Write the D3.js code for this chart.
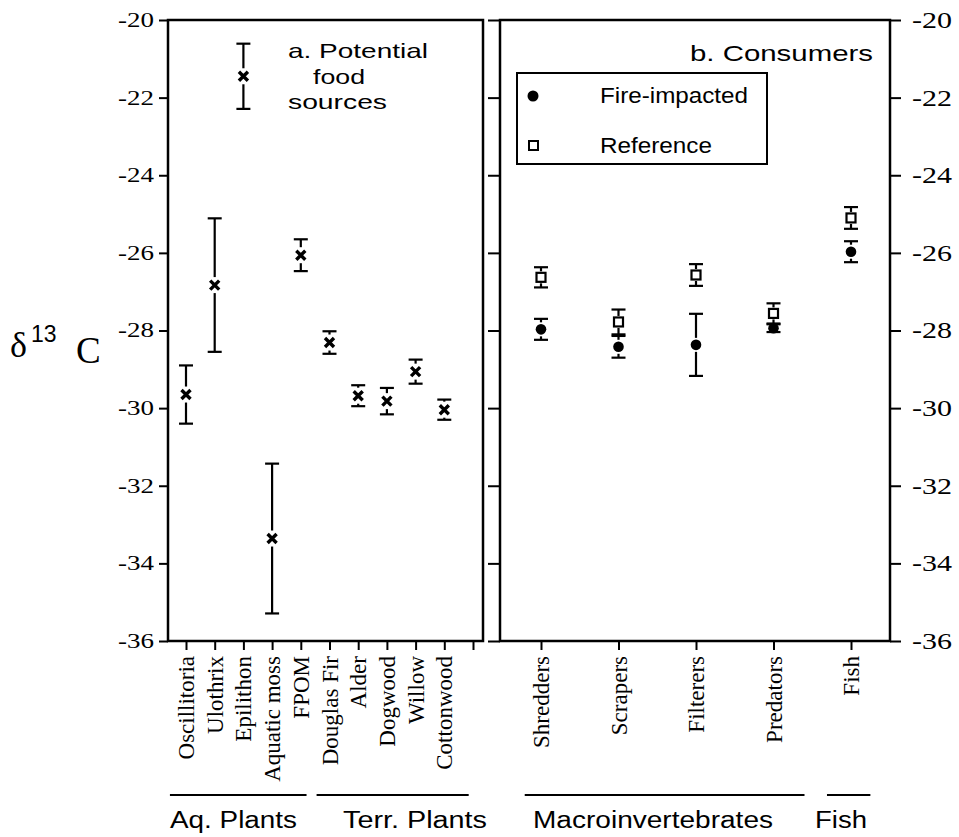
<!DOCTYPE html>
<html>
<head>
<meta charset="utf-8">
<script src="https://cdn.jsdelivr.net/npm/d3@7"></script>
<style>
  body { margin: 0; background: #fff; }
  .tick line { stroke: #000; stroke-width: 2; }
  .domain { display: none; }
</style>
</head>
<body>
<script>
// data
var foodLabels = ["Oscillitoria", "Ulothrix", "Epilithon", "Aquatic moss", "FPOM",
                  "Douglas Fir", "Alder", "Dogwood", "Willow", "Cottonwood"];
var foodMean = [-29.65, -26.83, -21.45, -33.36, -26.06, -28.31, -29.68, -29.82, -29.06, -30.04];
var foodErr  = [0.75, 1.72, 0.84, 1.93, 0.41, 0.29, 0.27, 0.34, 0.31, 0.26];

var consumerLabels = ["Shredders", "Scrapers", "Filterers", "Predators", "Fish"];
var fireMean = [-27.97, -28.42, -28.37, -27.94, -25.97];
var fireErr  = [0.27, 0.28, 0.80, 0.10, 0.27];
var refMean  = [-26.63, -27.78, -26.57, -27.56, -25.10];
var refErr   = [0.26, 0.32, 0.28, 0.26, 0.28];

var yTicks = [-36, -34, -32, -30, -28, -26, -24, -22, -20];

// svg
var svgWidth = 959, svgHeight = 837;
var svg = d3.select("body").append("svg")
  .attr("width", svgWidth)
  .attr("height", svgHeight);

var top0 = 20, bottom0 = 641;
var panelA = {left: 168, right: 483};
var panelB = {left: 500, right: 890};

var y = d3.scaleLinear().domain([-36, -20]).range([bottom0, top0]);
var xa = d3.scaleLinear().domain([0, 10]).range([186, 473]);
var xb = d3.scaleLinear().domain([0, 4]).range([541, 851]);

var sans = "Liberation Sans, Arial, sans-serif";
var serif = "Liberation Serif, Times New Roman, serif";

// axes
var leftAxis = svg.append("g")
  .attr("transform", "translate(" + panelA.left + ",0)")
  .call(d3.axisLeft(y).tickValues(yTicks).tickSize(9).tickPadding(5).tickFormat(function(d) { return "-" + Math.abs(d); }));
leftAxis.selectAll("text")
  .style("font-family", serif).style("font-size", "20px").attr("fill", "#000")
  .attr("textLength", 36).attr("lengthAdjust", "spacingAndGlyphs");

svg.append("g")
  .attr("transform", "translate(" + panelB.left + ",0)")
  .call(d3.axisLeft(y).tickValues(yTicks).tickSize(12).tickFormat(""));

var rightAxis = svg.append("g")
  .attr("transform", "translate(" + panelB.right + ",0)")
  .call(d3.axisRight(y).tickValues(yTicks).tickSize(11).tickPadding(11).tickFormat(function(d) { return "-" + Math.abs(d); }));
rightAxis.selectAll("text")
  .style("font-family", serif).style("font-size", "23px").attr("fill", "#000")
  .attr("textLength", 40).attr("lengthAdjust", "spacingAndGlyphs");

var bottomA = svg.append("g")
  .attr("transform", "translate(0," + bottom0 + ")")
  .call(d3.axisBottom(xa).tickValues(d3.range(11)).tickSize(9).tickFormat(function(i) { return foodLabels[i] || ""; }));
var bottomB = svg.append("g")
  .attr("transform", "translate(0," + bottom0 + ")")
  .call(d3.axisBottom(xb).tickValues(d3.range(5)).tickSize(9).tickFormat(function(i) { return consumerLabels[i]; }));

[bottomA, bottomB].forEach(function(g) {
  g.selectAll("text")
    .style("font-family", serif).style("font-size", "23px").attr("fill", "#000")
    .attr("text-anchor", "end")
    .attr("transform", "rotate(-90)")
    .attr("x", -15).attr("y", 0).attr("dy", "0.33em");
});

// frames
[panelA, panelB].forEach(function(p) {
  svg.append("rect")
    .attr("x", p.left).attr("y", top0)
    .attr("width", p.right - p.left).attr("height", bottom0 - top0)
    .attr("fill", "none").attr("stroke", "#000").attr("stroke-width", 2.5);
});

// error bar helper with a gap around the marker
function errorBar(g, cx, mean, err, gap) {
  var yt = y(mean + err), yb = y(mean - err), yc = y(mean);
  var cap = 7;
  g.append("line").attr("x1", cx - cap).attr("x2", cx + cap).attr("y1", yt).attr("y2", yt);
  g.append("line").attr("x1", cx - cap).attr("x2", cx + cap).attr("y1", yb).attr("y2", yb);
  if (yc - gap > yt) g.append("line").attr("x1", cx).attr("x2", cx).attr("y1", yt).attr("y2", yc - gap);
  if (yc + gap < yb) g.append("line").attr("x1", cx).attr("x2", cx).attr("y1", yc + gap).attr("y2", yb);
}

var bars = svg.append("g").attr("stroke", "#000").attr("stroke-width", 2.2);

// panel a: crosses
foodMean.forEach(function(m, i) {
  var cx = xa(i), cy = y(m);
  errorBar(bars, cx, m, foodErr[i], 8);
  var s = 4.5;
  bars.append("path")
    .attr("d", "M" + (cx - s) + "," + (cy - s) + "L" + (cx + s) + "," + (cy + s) +
               "M" + (cx - s) + "," + (cy + s) + "L" + (cx + s) + "," + (cy - s))
    .attr("stroke-width", 3.4);
});

// panel b: fire-impacted (dots) and reference (squares)
fireMean.forEach(function(m, i) {
  errorBar(bars, xb(i), m, fireErr[i], 7);
});
refMean.forEach(function(m, i) {
  errorBar(bars, xb(i), m, refErr[i], 6);
});
svg.selectAll("circle.fire")
  .data(fireMean).enter().append("circle")
  .attr("class", "fire")
  .attr("cx", function(d, i) { return xb(i); })
  .attr("cy", function(d) { return y(d); })
  .attr("r", 5.3).attr("fill", "#000");
svg.selectAll("rect.ref")
  .data(refMean).enter().append("rect")
  .attr("class", "ref")
  .attr("x", function(d, i) { return xb(i) - 4.5; })
  .attr("y", function(d) { return y(d) - 4.5; })
  .attr("width", 9).attr("height", 9)
  .attr("fill", "#fff").attr("stroke", "#000").attr("stroke-width", 2.2);

// panel titles
var titleA = [["a. Potential", 288, 58, 140], ["food", 313, 84, 52], ["sources", 288, 109, 99]];
titleA.forEach(function(t) {
  svg.append("text").attr("x", t[1]).attr("y", t[2]).text(t[0])
    .style("font-family", sans).style("font-size", "21px")
    .attr("textLength", t[3]).attr("lengthAdjust", "spacingAndGlyphs");
});
svg.append("text").attr("x", 690).attr("y", 61).text("b. Consumers")
  .style("font-family", sans).style("font-size", "22px")
  .attr("textLength", 183).attr("lengthAdjust", "spacingAndGlyphs");

// legend
var legend = svg.append("g");
legend.append("rect").attr("x", 517).attr("y", 73).attr("width", 250).attr("height", 91)
  .attr("fill", "#fff").attr("stroke", "#000").attr("stroke-width", 2);
legend.append("circle").attr("cx", 533).attr("cy", 96).attr("r", 5.5).attr("fill", "#000");
legend.append("rect").attr("x", 529).attr("y", 141).attr("width", 9).attr("height", 9)
  .attr("fill", "#fff").attr("stroke", "#000").attr("stroke-width", 2);
legend.append("text").attr("x", 600).attr("y", 103).text("Fire-impacted")
  .style("font-family", sans).style("font-size", "22px")
  .attr("textLength", 148).attr("lengthAdjust", "spacingAndGlyphs");
legend.append("text").attr("x", 600).attr("y", 153).text("Reference")
  .style("font-family", sans).style("font-size", "22px")
  .attr("textLength", 112).attr("lengthAdjust", "spacingAndGlyphs");

// y axis label
var ylab = svg.append("text").attr("y", 357).style("font-family", serif).attr("fill", "#000");
ylab.append("tspan").attr("x", 10).style("font-size", "36px").text("δ");
ylab.append("tspan").attr("x", 31).attr("y", 342).style("font-family", sans).style("font-size", "23px").text("13");
ylab.append("tspan").attr("x", 76).attr("y", 363).style("font-size", "37px").text("C");

// group labels under the categories
var groups = [
  {name: "Aq. Plants", x1: xa(-0.56), x2: xa(4.2), tx: 170, len: 127},
  {name: "Terr. Plants", x1: xa(4.55), x2: xa(9.85), tx: 343, len: 144},
  {name: "Macroinvertebrates", x1: xb(-0.21), x2: xb(3.4), tx: 533, len: 240},
  {name: "Fish", x1: xb(3.69), x2: xb(4.25), tx: 815, len: 52}
];
groups.forEach(function(gr) {
  svg.append("line").attr("x1", gr.x1).attr("x2", gr.x2).attr("y1", 795).attr("y2", 795)
    .attr("stroke", "#000").attr("stroke-width", 2);
  svg.append("text").attr("x", gr.tx).attr("y", 828).text(gr.name)
    .style("font-family", sans).style("font-size", "23px")
    .attr("textLength", gr.len).attr("lengthAdjust", "spacingAndGlyphs");
});
</script>
</body>
</html>
